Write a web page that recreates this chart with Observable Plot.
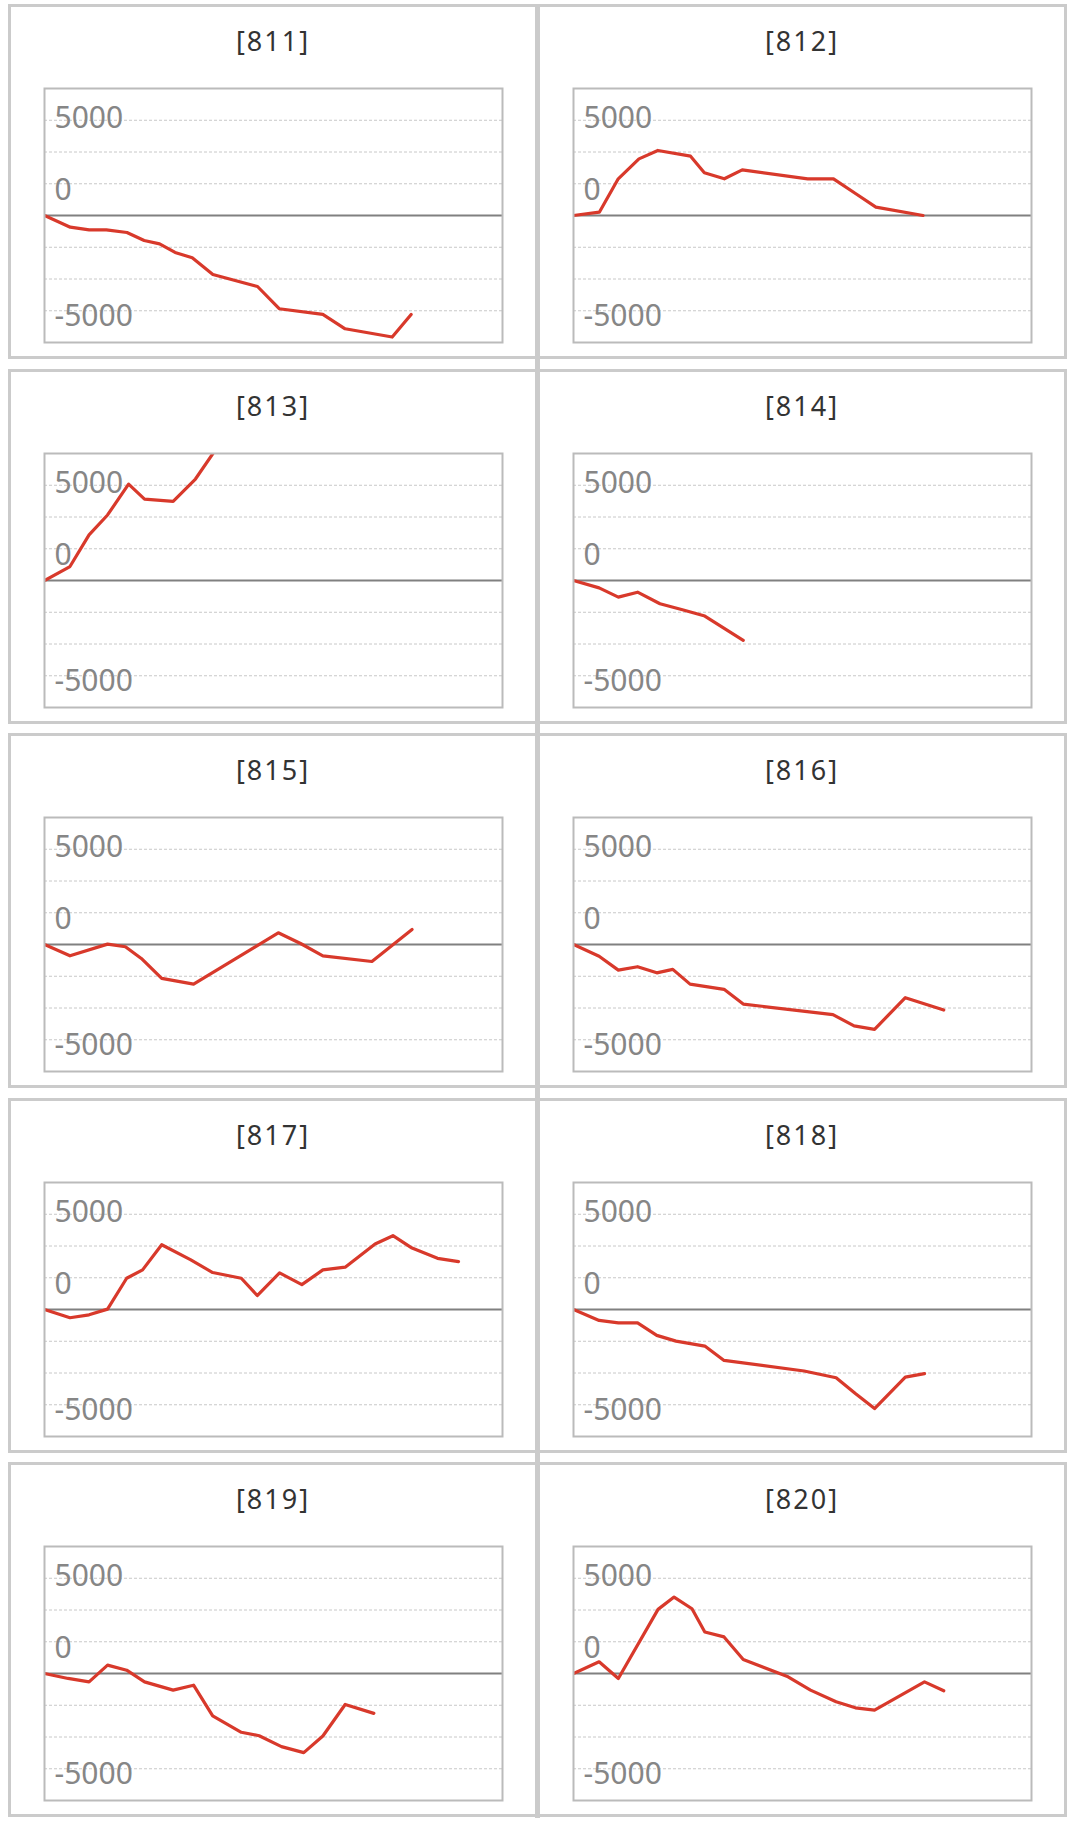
<!DOCTYPE html>
<html>
<head>
<meta charset="utf-8">
<script src="https://cdn.jsdelivr.net/npm/d3@7"></script>
<script src="https://cdn.jsdelivr.net/npm/@observablehq/plot@0.6"></script>
<style>
  html, body { margin: 0; padding: 0; background: #fff; }
  #page { position: relative; width: 1076px; height: 1823px; overflow: hidden; }
  .panel { position: absolute; box-sizing: border-box; width: 530px; height: 355px;
           border: 3px solid #cbcbcb; background: #fff; }
  .title { position: absolute; left: 0; right: 0; top: 17px; height: 34px; line-height: 34px;
           text-align: center; font-family: "Noto Sans", sans-serif; font-size: 27px;
           letter-spacing: 2px; color: #333; }
  .panel svg { position: absolute; left: 31px; top: 79px; overflow: visible; }
  .divider { position: absolute; left: 535px; width: 5px; top: 4px; height: 1814px; background: #cbcbcb; }
</style>
</head>
<body>
<div id="page"></div>
<script>
// machine titles
const machines = ["[811]", "[812]", "[813]", "[814]", "[815]", "[816]", "[817]", "[818]", "[819]", "[820]"];

// x positions (progress along the day, 0–10000 across the frame) and cumulative values per machine
const x811 = [0, 563, 975, 1350, 1800, 2176, 2513, 2851, 3226, 3676, 4651, 5124, 6077, 6564, 7592, 8005];
const v811 = [0, -920, -1130, -1130, -1340, -1970, -2230, -2910, -3330, -4640, -5590, -7340, -7790, -8920, -9570, -7790];

const x812 = [0, 564, 977, 1429, 1842, 2556, 2857, 3293, 3684, 5113, 5677, 6165, 6602, 7632];
const v812 = [0, 260, 2890, 4460, 5120, 4670, 3360, 2890, 3590, 2890, 2890, 1710, 660, 0];

const x813 = [0, 556, 973, 1377, 1836, 2184, 2809, 3296, 3992];
const v813 = [0, 1100, 3590, 5160, 7590, 6410, 6230, 7990, 11650];

const x814 = [0, 559, 979, 1399, 1888, 2378, 2867, 3706];
const v814 = [0, -580, -1310, -920, -1830, -2300, -2800, -4710];

const x815 = [0, 556, 1377, 1766, 2114, 2559, 3255, 5104, 5591, 6078, 7149, 8025];
const v815 = [0, -890, 30, -180, -1100, -2670, -3120, 920, 80, -890, -1340, 1180];

const x816 = [0, 559, 979, 1399, 1818, 2168, 2545, 3287, 3706, 5664, 6126, 6573, 7245, 8084];
const v816 = [0, -920, -2020, -1750, -2230, -1960, -3120, -3530, -4690, -5520, -6410, -6680, -4190, -5160];

const x817 = [0, 556, 973, 1377, 1794, 2142, 2559, 3185, 3672, 4297, 4645, 5132, 5619, 6078, 6565, 7218, 7608, 8025, 8581, 9040];
const v817 = [0, -650, -420, 30, 2460, 3120, 5100, 3930, 2910, 2460, 1100, 2880, 1960, 3120, 3330, 5160, 5810, 4840, 4030, 3770];

const x818 = [0, 559, 979, 1399, 1818, 2238, 2867, 3287, 5035, 5734, 6154, 6573, 7245, 7664];
const v818 = [0, -860, -1050, -1050, -2040, -2490, -2880, -4010, -4840, -5370, -6620, -7800, -5320, -5050];

const x819 = [0, 515, 973, 1377, 1794, 2184, 2809, 3255, 3672, 4297, 4687, 5174, 5661, 6078, 6565, 7191];
const v819 = [0, -390, -660, 660, 260, -660, -1310, -920, -3330, -4630, -4900, -5760, -6230, -4920, -2440, -3140];

const x820 = [0, 559, 979, 1846, 2196, 2587, 2867, 3287, 3706, 4685, 5175, 5734, 6154, 6573, 7664, 8084];
const v820 = [0, 920, -390, 5050, 6020, 5100, 3270, 2880, 1100, -260, -1310, -2230, -2700, -2880, -660, -1360];

// axis
const xDomain = [0, 10000];
const yDomain = [-10000, 10000];
const yGrid = [-7500, -5000, -2500, 2500, 5000, 7500];
const yTickLabels = ["5000", "0", "-5000"];
const yTickAt = [7650, 2000, -7920];

const xs = [x811, x812, x813, x814, x815, x816, x817, x818, x819, x820];
const vs = [v811, v812, v813, v814, v815, v816, v817, v818, v819, v820];

const page = document.getElementById("page");
const divider = document.createElement("div");
divider.className = "divider";
page.appendChild(divider);

const ticks = yTickLabels.map((t, i) => ({label: t, at: yTickAt[i]}));

machines.forEach((name, i) => {
  const col = i % 2, row = Math.floor(i / 2);
  const panel = document.createElement("div");
  panel.className = "panel";
  panel.style.left = (col === 0 ? 8 : 537) + "px";
  panel.style.top = Math.round(4 + row * 364.5) + "px";
  const title = document.createElement("div");
  title.className = "title";
  title.textContent = name;
  panel.appendChild(title);

  const data = xs[i].map((x, k) => ({x, v: vs[i][k]}));
  const chart = Plot.plot({
    width: 462, height: 258,
    marginTop: 2, marginBottom: 2, marginLeft: 2, marginRight: 2,
    style: {fontFamily: "'Noto Sans', sans-serif", background: "transparent"},
    x: {domain: xDomain, axis: null},
    y: {domain: yDomain, axis: null},
    marks: [
      Plot.ruleY(yGrid, {stroke: "#c8c8c8", strokeWidth: 1, strokeDasharray: "3,2"}),
      Plot.ruleY([0], {stroke: "#808080", strokeWidth: 2.2}),
      Plot.text(ticks, {y: "at", text: "label", frameAnchor: "left", dx: 10, textAnchor: "start",
                        fontSize: 30, fill: "#868686"}),
      Plot.line(data, {x: "x", y: "v", stroke: "#d8392b", strokeWidth: 3.2, clip: true}),
      Plot.frame({stroke: "#bbbbbb", strokeWidth: 2})
    ]
  });
  panel.appendChild(chart);
  page.appendChild(panel);
});
</script>
</body>
</html>
